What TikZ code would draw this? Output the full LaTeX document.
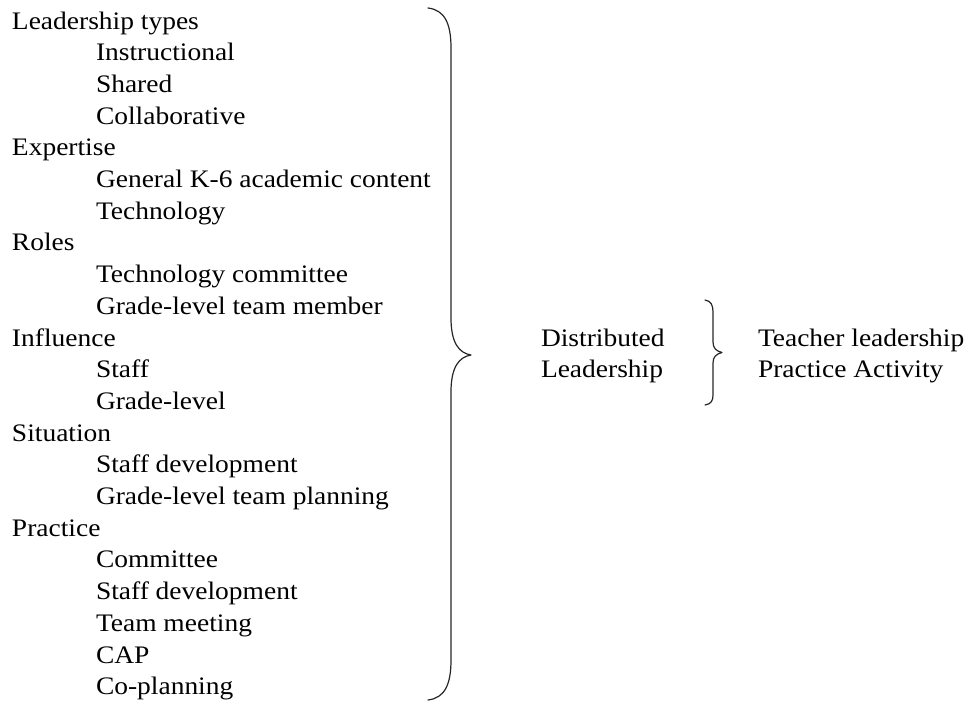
\documentclass[tikz,border=0pt]{standalone}
\usepackage{fontspec}
\setmainfont{Liberation Serif}[FakeStretch=1.09]
\begin{document}
\begin{tikzpicture}[x=1pt,y=-1pt,
  txt/.style={anchor=base west,inner sep=0pt,outer sep=0pt,font=\fontsize{25.2}{30}\selectfont,text=black},
  brace/.style={draw=black!85,line width=1.2pt,line cap=round,line join=round}]
\useasboundingbox (0,0) rectangle (971,704);
\def\dy{31.7}
\node[txt] (l1) at (12,29) {Leadership types};
\node[txt] (l2) at (96,{29+1*\dy}) {Instructional};
\node[txt] (l3) at (96,{29+2*\dy}) {Shared};
\node[txt] (l4) at (96,{29+3*\dy}) {Collaborative};
\node[txt] (l5) at (12,{29+4*\dy}) {Expertise};
\node[txt] (l6) at (96,{29+5*\dy}) {General K-6 academic content};
\node[txt] (l7) at (96,{29+6*\dy}) {Technology};
\node[txt] (l8) at (12,{29+7*\dy}) {Roles};
\node[txt] (l9) at (96,{29+8*\dy}) {Technology committee};
\node[txt] (l10) at (96,{29+9*\dy}) {Grade-level team member};
\node[txt] (l11) at (12,{29+10*\dy}) {Influence};
\node[txt] (l12) at (96,{29+11*\dy}) {Staff};
\node[txt] (l13) at (96,{29+12*\dy}) {Grade-level};
\node[txt] (l14) at (12,{29+13*\dy}) {Situation};
\node[txt] (l15) at (96,{29+14*\dy}) {Staff development};
\node[txt] (l16) at (96,{29+15*\dy}) {Grade-level team planning};
\node[txt] (l17) at (12,{29+16*\dy}) {Practice};
\node[txt] (l18) at (96,{29+17*\dy}) {Committee};
\node[txt] (l19) at (96,{29+18*\dy}) {Staff development};
\node[txt] (l20) at (96,{29+19*\dy}) {Team meeting};
\node[txt] (l21) at (96,{29+20*\dy}) {CAP};
\node[txt] (l22) at (96,{29+21*\dy}) {Co-planning};
\node[txt] (d1) at (541,{29+10*\dy}) {Distributed};
\node[txt] (d2) at (541,{29+11*\dy}) {Leadership};
\node[txt] (t1) at (758,{29+10*\dy}) {Teacher leadership};
\node[txt] (t2) at (758,{29+11*\dy}) {Practice Activity};
% large brace
\draw[brace] (428,8) .. controls (445,10) and (451,24) .. (451,48) -- (451,318)
  .. controls (451,343) and (459,353) .. (471,355)
  .. controls (459,357) and (451,367) .. (451,392) -- (451,660)
  .. controls (451,684) and (445,698) .. (428,700);
% small brace
\draw[brace] (705,300) .. controls (711,301) and (713,305) .. (713,312) -- (713,342)
  .. controls (713,348) and (716,351) .. (722,352.5)
  .. controls (716,354) and (713,357) .. (713,363) -- (713,395)
  .. controls (713,401) and (711,404) .. (705,405);
\end{tikzpicture}
\end{document}
